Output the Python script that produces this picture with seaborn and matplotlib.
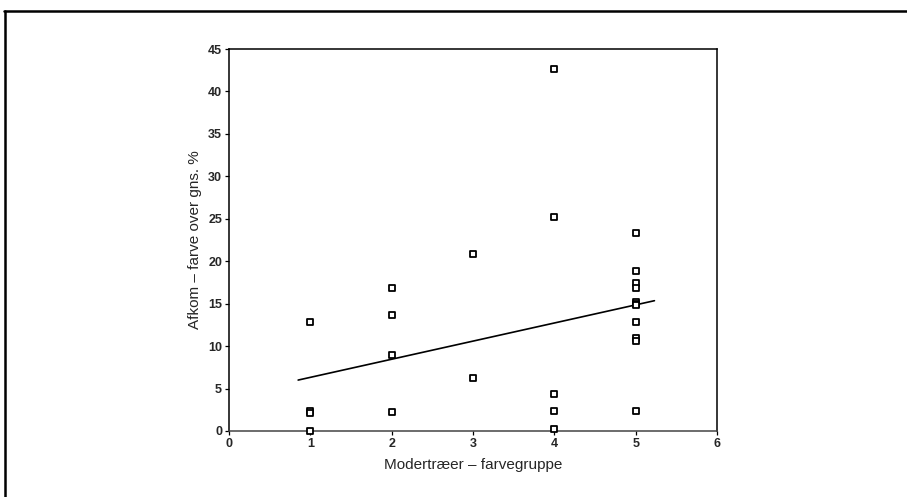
import matplotlib
matplotlib.use("Agg")
import matplotlib.pyplot as plt
import matplotlib.lines as mlines
import seaborn as sns
import pandas as pd

# Mother-tree colour group and offspring colour score (% above mean)
group = [1, 1, 1, 1,
         2, 2, 2, 2,
         3, 3,
         4, 4, 4, 4, 4,
         5, 5, 5, 5, 5, 5, 5, 5, 5, 5, 5]
score = [12.8, 2.3, 2.1, 0.0,
         16.8, 13.7, 9.0, 2.2,
         20.9, 6.3,
         42.6, 25.2, 4.4, 2.3, 0.2,
         23.3, 18.9, 17.4, 16.8, 15.2, 15.0, 14.8, 12.8, 11.0, 10.6, 2.3]

# Fitted trend line end points
line_x = [0.85, 5.23]
line_y = [6.0, 15.35]

x_ticks = [0, 1, 2, 3, 4, 5, 6]
y_ticks = [0, 5, 10, 15, 20, 25, 30, 35, 40, 45]

x_label = "Modertræer – farvegruppe"
y_label = "Afkom – farve over gns. %"

sns.set_style("ticks")
plt.rcParams["font.family"] = ["Liberation Sans", "DejaVu Sans"]

df = pd.DataFrame({"group": group, "score": score})
trend = pd.DataFrame({"x": line_x, "y": line_y})

fig = plt.figure(figsize=(9.07, 4.97), dpi=100)
ax = fig.add_axes([0.2525, 0.1328, 0.5381, 0.7686])

sns.lineplot(data=trend, x="x", y="y", ax=ax, color="black", lw=1.2,
             zorder=2)
sns.scatterplot(data=df, x="group", y="score", ax=ax, marker="s", s=22,
                facecolor="white", edgecolor="black", linewidth=1.3,
                zorder=3, clip_on=False)

ax.set_xlim(0, 6)
ax.set_ylim(0, 45)
ax.set_xticks(x_ticks)
ax.set_yticks(y_ticks)
ax.tick_params(axis="both", labelsize=9, length=3, width=0.9,
               color="black", pad=2)
for lab in ax.get_xticklabels() + ax.get_yticklabels():
    lab.set_fontweight("bold")

for side in ["left", "right", "top"]:
    ax.spines[side].set_visible(True)
    ax.spines[side].set_color("black")
    ax.spines[side].set_linewidth(1.1)
ax.spines["bottom"].set_color("#444444")
ax.spines["bottom"].set_linewidth(1.1)

ax.set_xlabel(x_label, fontsize=11, labelpad=6)
ax.set_ylabel(y_label, fontsize=11, labelpad=4)

# Page frame: top rule and left rule
fig.add_artist(mlines.Line2D([0.004, 1.0], [0.977, 0.977], color="black",
                             lw=1.8, transform=fig.transFigure))
fig.add_artist(mlines.Line2D([0.006, 0.006], [0.0, 0.977], color="black",
                             lw=1.8, transform=fig.transFigure))

fig.savefig("out.png", dpi=100, facecolor="white")
